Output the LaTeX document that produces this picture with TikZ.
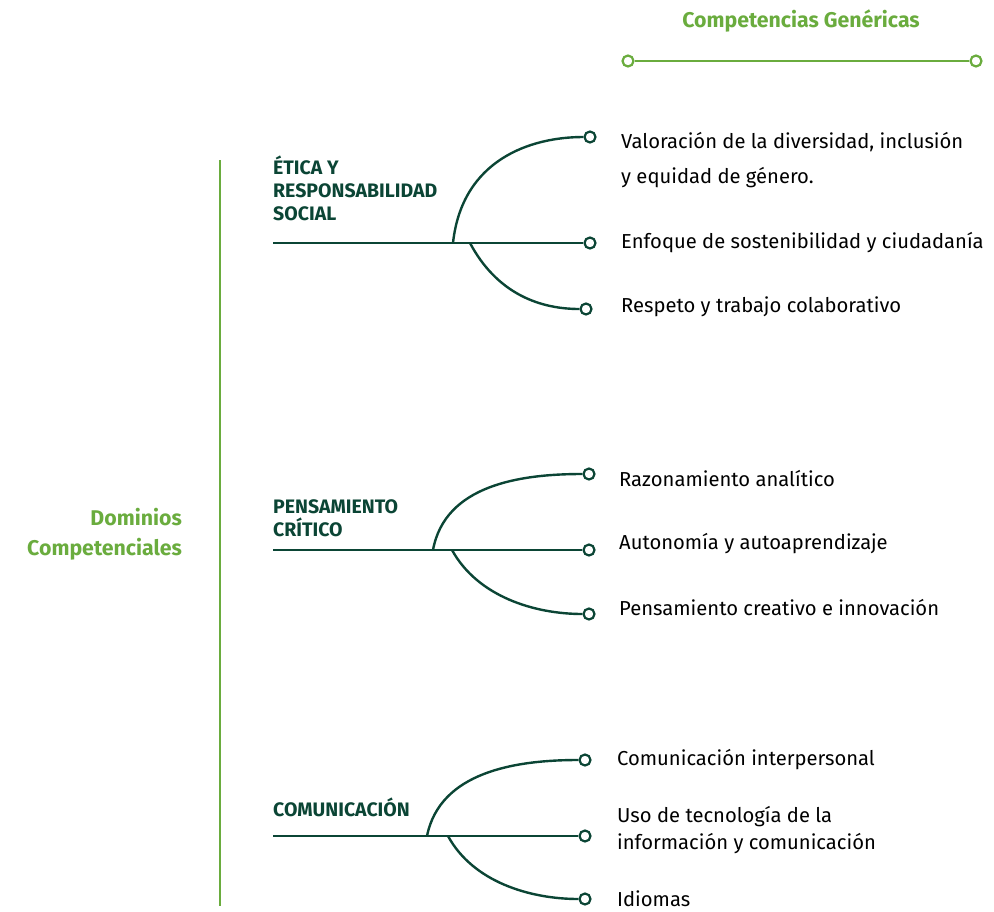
\documentclass[tikz,border=0pt]{standalone}
\usepackage{fontspec}
\setmainfont{Fira Sans}
\definecolor{dk}{HTML}{0B4535}
\definecolor{gr}{HTML}{6AAC3E}
\begin{document}
\begin{tikzpicture}[x=1pt,y=-1pt,
  conn/.style={draw=dk,line width=2.4pt},
  endc/.style={circle,draw=dk,fill=white,line width=2.2pt,minimum size=11pt,inner sep=0pt},
  gendc/.style={circle,draw=gr,fill=white,line width=2.2pt,minimum size=11pt,inner sep=0pt},
  item/.style={anchor=west,text=black,font=\fontsize{20.2}{35}\selectfont,align=left,inner sep=0pt},
  head/.style={anchor=north west,text=dk,font=\bfseries\fontsize{19.5}{23}\selectfont,align=left,inner sep=0pt},
  gtitle/.style={text=gr,font=\bfseries\fontsize{21.3}{30}\selectfont,inner sep=0pt}]
\useasboundingbox (0,0) rectangle (994,911);
% top
\node[gtitle] (ct) at (801,21) {Competencias Genéricas};
\node[gendc] (g1) at (628,61) {};
\node[gendc] (g2) at (976,61) {};
\draw[gr,line width=2.4pt] (g1) -- (g2);
% left
\coordinate (vt) at (220,160);
\coordinate (vb) at (220,906);
\draw[gr,line width=2.4pt] (vt) -- (vb);
\node[gtitle,anchor=east,align=right] (dc) at (182,534) {Dominios\\Competenciales};
% group 1
\node[head] (h1) at (273,156) {ÉTICA Y\\RESPONSABILIDAD\\SOCIAL};
\coordinate (s1) at (273,243);
\coordinate (a1) at (453,243);
\coordinate (b1) at (470,243);
\node[endc] (e11) at (590,137) {};
\node[endc] (e12) at (590,243) {};
\node[endc] (e13) at (586,309) {};
\draw[conn] (s1) -- (e12);
\draw[conn] (a1) .. controls (462,160) and (530,137) .. (e11);
\draw[conn] (b1) .. controls (495,290) and (535,309) .. (e13);
\node[item] (t11) at (621,160) {Valoración de la diversidad, inclusión\\y equidad de género.};
\node[item] (t12) at (621,243) {Enfoque de sostenibilidad y ciudadanía};
\node[item] (t13) at (621,307) {Respeto y trabajo colaborativo};
% group 2
\node[head] (h2) at (273,499) {PENSAMIENTO\\CRÍTICO};
\coordinate (s2) at (273,550);
\coordinate (a2) at (433,550);
\coordinate (b2) at (452,550);
\node[endc] (e21) at (589,474) {};
\node[endc] (e22) at (589,550) {};
\node[endc] (e23) at (589,614) {};
\draw[conn] (s2) -- (e22);
\draw[conn] (a2) .. controls (445,485) and (520,474) .. (e21);
\draw[conn] (b2) .. controls (478,597) and (535,614) .. (e23);
\node[item] (t21) at (619,479) {Razonamiento analítico};
\node[item] (t22) at (619,544) {Autonomía y autoaprendizaje};
\node[item] (t23) at (619,608) {Pensamiento creativo e innovación};
% group 3
\node[head] (h3) at (273,798) {COMUNICACIÓN};
\coordinate (s3) at (273,836);
\coordinate (a3) at (427,836);
\coordinate (b3) at (448,836);
\node[endc] (e31) at (585,760) {};
\node[endc] (e32) at (585,836) {};
\node[endc] (e33) at (585,899) {};
\draw[conn] (s3) -- (e32);
\draw[conn] (a3) .. controls (440,772) and (515,760) .. (e31);
\draw[conn] (b3) .. controls (473,882) and (530,899) .. (e33);
\node[item] (t31) at (617,760) {Comunicación interpersonal};
\node[item,font=\fontsize{20.2}{27}\selectfont] (t32) at (617,830) {Uso de tecnología de la\\información y comunicación};
\node[item] (t33) at (617,899) {Idiomas};
\end{tikzpicture}
\end{document}
